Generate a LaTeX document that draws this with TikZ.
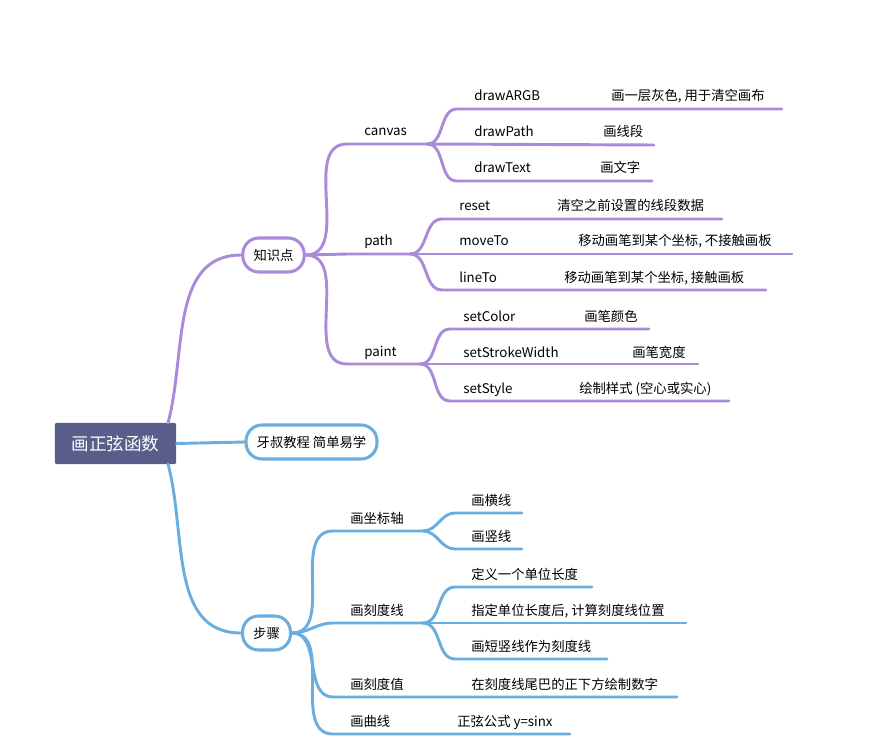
\documentclass[tikz,border=0pt]{standalone}
\usepackage{fontspec}
\setmainfont{Noto Sans CJK SC}
\definecolor{knowpurple}{HTML}{A98BDA}
\definecolor{stepblue}{HTML}{6AAEDF}
\definecolor{rootfill}{HTML}{585D89}
\begin{document}
\begin{tikzpicture}[x=0.75pt,y=-0.75pt,
  every node/.style={font=\fontsize{10}{12}\selectfont},
  root/.style={fill=rootfill, text=white, rounded corners=1.5pt, minimum width=91pt, minimum height=31pt, font=\fontsize{13.2}{15}\selectfont},
  topic/.style={draw, fill=white, line width=2.3pt, rounded corners=12pt, minimum height=25.5pt, inner xsep=8pt},
  lbl/.style={anchor=base west, inner sep=0pt},
  kline/.style={knowpurple, line width=2.2pt, line cap=round},
  sline/.style={stepblue, line width=2.2pt, line cap=round}]
  \useasboundingbox (0,0) rectangle (880,755);
  % Root and main topics
  \node[root] (root) at (115.5,443.5) {画正弦函数};
  \node[topic, draw=knowpurple] (kn) at (273.5,255) {知识点};
  \node[topic, draw=stepblue] (tip) at (311.5,442) {牙叔教程\ 简单易学};
  \node[topic, draw=stepblue] (steps) at (266.5,633) {步骤};
  \coordinate (rootup) at (168,423);
  \coordinate (rootdown) at (168,464);
  \draw[kline] (rootup) to[out=75,in=180] (kn.west);
  \draw[sline] (root.east) -- (tip.west);
  \draw[sline] (rootdown) to[out=-75,in=180] (steps.west);
  % Knowledge: canvas
  \coordinate (canvasL) at (347,144); \coordinate (canvasR) at (427,144);
  \node[lbl] (canvas) at (364,136) {canvas};
  \draw[kline] (kn.east) to[out=0,in=180] (canvasL) -- (canvasR);
  \coordinate (argbL) at (457,109); \coordinate (argbR) at (782,109);
  \node[lbl] (argb) at (474,101) {drawARGB};
  \node[lbl] (argbd) at (611,101) {画一层灰色, 用于清空画布};
  \draw[kline] (canvasR) to[out=0,in=180] (argbL) -- (argbR);
  \coordinate (dpathR) at (654,145);
  \node[lbl] (dpath) at (474,137) {drawPath};
  \node[lbl] (dpathd) at (603,137) {画线段};
  \draw[kline] (canvasR) -- (dpathR);
  \coordinate (dtextL) at (457,181); \coordinate (dtextR) at (652,181);
  \node[lbl] (dtext) at (474,173) {drawText};
  \node[lbl] (dtextd) at (600,173) {画文字};
  \draw[kline] (canvasR) to[out=0,in=180] (dtextL) -- (dtextR);
  % Knowledge: path
  \coordinate (pathL) at (347,254); \coordinate (pathR) at (410,254);
  \node[lbl] (path) at (364,246) {path};
  \draw[kline] (kn.east) -- (pathL) -- (pathR);
  \coordinate (resetL) at (442,219); \coordinate (resetR) at (722,219);
  \node[lbl] (reset) at (459,211) {reset};
  \node[lbl] (resetd) at (557,211) {清空之前设置的线段数据};
  \draw[kline] (pathR) to[out=0,in=180] (resetL) -- (resetR);
  \coordinate (movetoR) at (792,254);
  \node[lbl] (moveto) at (459,246) {moveTo};
  \node[lbl] (movetod) at (578,246) {移动画笔到某个坐标, 不接触画板};
  \draw[kline] (pathR) -- (movetoR);
  \coordinate (linetoL) at (442,290); \coordinate (linetoR) at (766,290);
  \node[lbl] (lineto) at (459,282) {lineTo};
  \node[lbl] (linetod) at (564,282) {移动画笔到某个坐标, 接触画板};
  \draw[kline] (pathR) to[out=0,in=180] (linetoL) -- (linetoR);
  % Knowledge: paint
  \coordinate (paintL) at (347,364); \coordinate (paintR) at (420,364);
  \node[lbl] (paint) at (364,356) {paint};
  \draw[kline] (kn.east) to[out=0,in=180] (paintL) -- (paintR);
  \coordinate (colorL) at (450,329); \coordinate (colorR) at (649,329);
  \node[lbl] (color) at (463,321) {setColor};
  \node[lbl] (colord) at (584,321) {画笔颜色};
  \draw[kline] (paintR) to[out=0,in=180] (colorL) -- (colorR);
  \coordinate (strokeR) at (698,364);
  \node[lbl] (stroke) at (463,357) {setStrokeWidth};
  \node[lbl] (stroked) at (632,357) {画笔宽度};
  \draw[kline] (paintR) -- (strokeR);
  \coordinate (styleL) at (450,401); \coordinate (styleR) at (729,401);
  \node[lbl] (style) at (463,393) {setStyle};
  \node[lbl] (styled) at (579,393) {绘制样式 (空心或实心)};
  \draw[kline] (paintR) to[out=0,in=180] (styleL) -- (styleR);
  % Steps: axes
  \coordinate (axesL) at (333,531); \coordinate (axesR) at (423,531);
  \node[lbl] (axes) at (350,523) {画坐标轴};
  \draw[sline] (steps.east) to[out=0,in=180] (axesL) -- (axesR);
  \coordinate (hlineL) at (455,513); \coordinate (hlineR) at (522,513);
  \node[lbl] (hline) at (471,505) {画横线};
  \draw[sline] (axesR) to[out=0,in=180] (hlineL) -- (hlineR);
  \coordinate (vlineL) at (455,549); \coordinate (vlineR) at (522,549);
  \node[lbl] (vline) at (471,541) {画竖线};
  \draw[sline] (axesR) to[out=0,in=180] (vlineL) -- (vlineR);
  % Steps: ticks
  \coordinate (ticksL) at (333,623); \coordinate (ticksR) at (423,623);
  \node[lbl] (ticks) at (350,615) {画刻度线};
  \draw[sline] (steps.east) to[out=0,in=180] (ticksL) -- (ticksR);
  \coordinate (unitL) at (455,587); \coordinate (unitR) at (592,587);
  \node[lbl] (unit) at (471,579) {定义一个单位长度};
  \draw[sline] (ticksR) to[out=0,in=180] (unitL) -- (unitR);
  \coordinate (calcR) at (686,623);
  \node[lbl] (calc) at (471,615) {指定单位长度后, 计算刻度线位置};
  \draw[sline] (ticksR) -- (calcR);
  \coordinate (shortL) at (455,659); \coordinate (shortR) at (607,659);
  \node[lbl] (short) at (471,651) {画短竖线作为刻度线};
  \draw[sline] (ticksR) to[out=0,in=180] (shortL) -- (shortR);
  % Steps: values and curve
  \coordinate (valuesL) at (333,697); \coordinate (valuesR) at (677,697);
  \node[lbl] (values) at (350,689) {画刻度值};
  \node[lbl] (valuesd) at (471,689) {在刻度线尾巴的正下方绘制数字};
  \draw[sline] (steps.east) to[out=0,in=180] (valuesL) -- (valuesR);
  \coordinate (curveL) at (333,734); \coordinate (curveR) at (570,734);
  \node[lbl] (curve) at (350,726) {画曲线};
  \node[lbl] (curved) at (457,726) {正弦公式 y=sinx};
  \draw[sline] (steps.east) to[out=0,in=180] (curveL) -- (curveR);
\end{tikzpicture}
\end{document}
